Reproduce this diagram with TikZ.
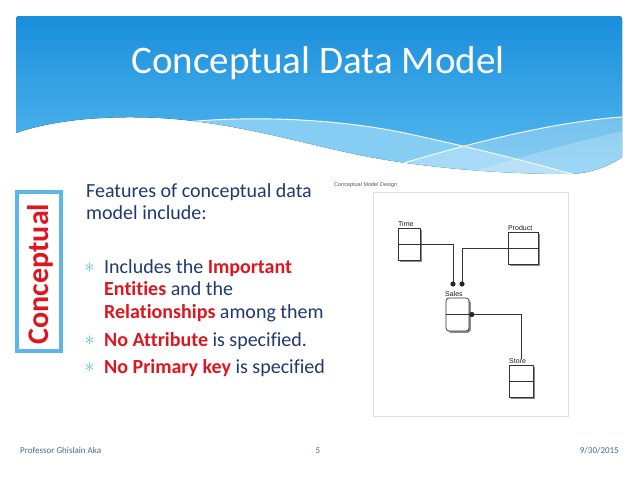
\documentclass[tikz,border=0pt]{standalone}
\usepackage{fontspec}
\setmainfont[Ligatures=NoCommon]{Carlito}
\newfontfamily\arialf{Liberation Sans}
\usetikzlibrary{shadows}
\definecolor{navy}{HTML}{1F3A6E}
\definecolor{cred}{HTML}{E0161E}
\definecolor{boxblue}{HTML}{5CB6EA}
\definecolor{bulblue}{HTML}{5BC1EA}
\definecolor{hdrtop}{HTML}{138AD9}
\definecolor{hdrbot}{HTML}{5ABCF0}
\definecolor{bandA}{HTML}{86CDF4}
\definecolor{footc}{HTML}{4A6790}
\tikzset{
  body/.style={anchor=base west, inner sep=0, text=navy, font=\fontsize{20}{22}\selectfont},
  bulletmark/.style={anchor=base, inner sep=0, text=bulblue, font=\fontsize{22}{22}\selectfont},
  entity/.style={draw=black!80, fill=white, line width=0.7, inner sep=0,
    drop shadow={shadow xshift=1.8pt, shadow yshift=-1.8pt, fill=black!45, opacity=1}},
  divider/.style={draw=black!80, line width=0.7},
  lbl/.style={anchor=base west, inner sep=0, text=black!90, font=\arialf\fontsize{7}{8}\selectfont},
  conn/.style={draw=black!80, line width=0.7},
  foot/.style={inner sep=0, text=footc, font=\fontsize{9}{10}\selectfont},
  wline/.style={draw=white, line width=0.9}
}
\begin{document}
\begin{tikzpicture}[x=1pt,y=-1pt]
\useasboundingbox[fill=white] (0,0) rectangle (638,479);
% header
\begin{scope}
\clip (16,133) -- (16,19) .. controls (16,17.3) and (17.3,16) .. (19,16) -- (619,16)
  .. controls (620.7,16) and (622,17.3) .. (622,19) -- (622,157)
  .. controls (612,164) and (595,173) .. (570,174)
  .. controls (480,174) and (400,164) .. (350,153)
  .. controls (290,140) and (230,122) .. (160,118)
  .. controls (100,115) and (50,121) .. (16,133) -- cycle;
\fill[top color=hdrtop, bottom color=hdrbot] (0,0) rectangle (638,180);
\fill[bandA] (185,122) .. controls (260,115) and (340,120) .. (400,132)
  .. controls (470,147) and (530,162) .. (575,175) -- (575,200) -- (185,200) -- cycle;
\fill[white, opacity=0.28] (390,167) .. controls (460,146) and (550,122) .. (622,117)
  -- (640,117) -- (640,200) -- (390,200) -- cycle;
\fill[white, opacity=0.2] (470,172) .. controls (540,152) and (590,137) .. (640,128)
  -- (640,200) -- cycle;
\draw[wline] (185,122) .. controls (260,115) and (340,120) .. (400,132)
  .. controls (470,147) and (530,162) .. (575,175);
\draw[wline] (390,167) .. controls (460,146) and (550,122) .. (622,117);
\end{scope}
\node[anchor=base, inner sep=0, text=white, font=\fontsize{39}{39}\selectfont] (title) at (318,73) {Conceptual Data Model};
% left box
\node[draw=boxblue, line width=3.5, fill=white, minimum width=44, minimum height=159, inner sep=0] (cbox) at (39,271.5) {};
\node[rotate=90, anchor=base, inner sep=0, text=cred, font=\bfseries\fontsize{30}{30}\selectfont] (ctext) at (48,274) {Conceptual};
% body text
\node[body] (f1) at (86,197) {Features of conceptual data};
\node[body] (f2) at (86,219) {model include:};
\node[bulletmark] (b1) at (89.5,272) {$\ast$};
\node[body] (t1) at (104,273) {Includes the \textcolor{cred}{\bfseries Important}};
\node[body] (t2) at (104,295) {\textcolor{cred}{\bfseries Entities} and the};
\node[body] (t3) at (104,318) {\textcolor{cred}{\bfseries Relationships} among them};
\node[bulletmark] (b2) at (89.5,345.5) {$\ast$};
\node[body] (t4) at (104,346) {\textcolor{cred}{\bfseries No Attribute} is specified.};
\node[bulletmark] (b3) at (89.5,372.5) {$\ast$};
\node[body] (t5) at (104,373) {\textcolor{cred}{\bfseries No Primary key} is specified};
% diagram
\node[draw=black!12, fill=white, minimum width=195, minimum height=224, inner sep=0] (frame) at (470.5,304) {};
\node[anchor=base west, inner sep=0, text=black!65, font=\arialf\fontsize{5.5}{6}\selectfont] (cap) at (334,186) {Conceptual Model Design};
\coordinate (d1) at (453,284);
\coordinate (d2) at (462,284);
\node[entity, minimum width=22, minimum height=32] (time) at (409,244) {};
\node[entity, minimum width=30, minimum height=32] (product) at (523,248) {};
\node[entity, rounded corners=3, minimum width=23, minimum height=33] (sales) at (457.5,314.5) {};
\node[entity, minimum width=24, minimum height=32] (store) at (521,381) {};
\draw[divider] (time.west) -- (time.east);
\draw[divider] (product.west) -- (product.east);
\draw[divider] (sales.west) -- (sales.east);
\draw[divider] (store.west) -- (store.east);
\node[lbl] (timel) at (398,226) {Time};
\node[lbl] (productl) at (508,230) {Product};
\node[lbl] (salesl) at (445,296) {Sales};
\node[lbl] (storel) at (509,363) {Store};
\draw[conn] (time.east) -| (d1);
\draw[conn] (product.west) -| (d2);
\draw[conn] (sales.east) -| ([yshift=-1pt]storel.north -| store.north);
\fill[black!85] (d1) circle[radius=2.6];
\fill[black!85] (d2) circle[radius=2.6];
\fill[black!85] ([xshift=2.5pt]sales.east) circle[radius=2.6];
% footer
\node[foot, anchor=base west] (fl) at (20,453) {Professor Ghislain Aka};
\node[foot, anchor=base] (fn) at (318,453) {5};
\node[foot, anchor=base east] (fr) at (619,453) {9/30/2015};
\end{tikzpicture}
\end{document}
